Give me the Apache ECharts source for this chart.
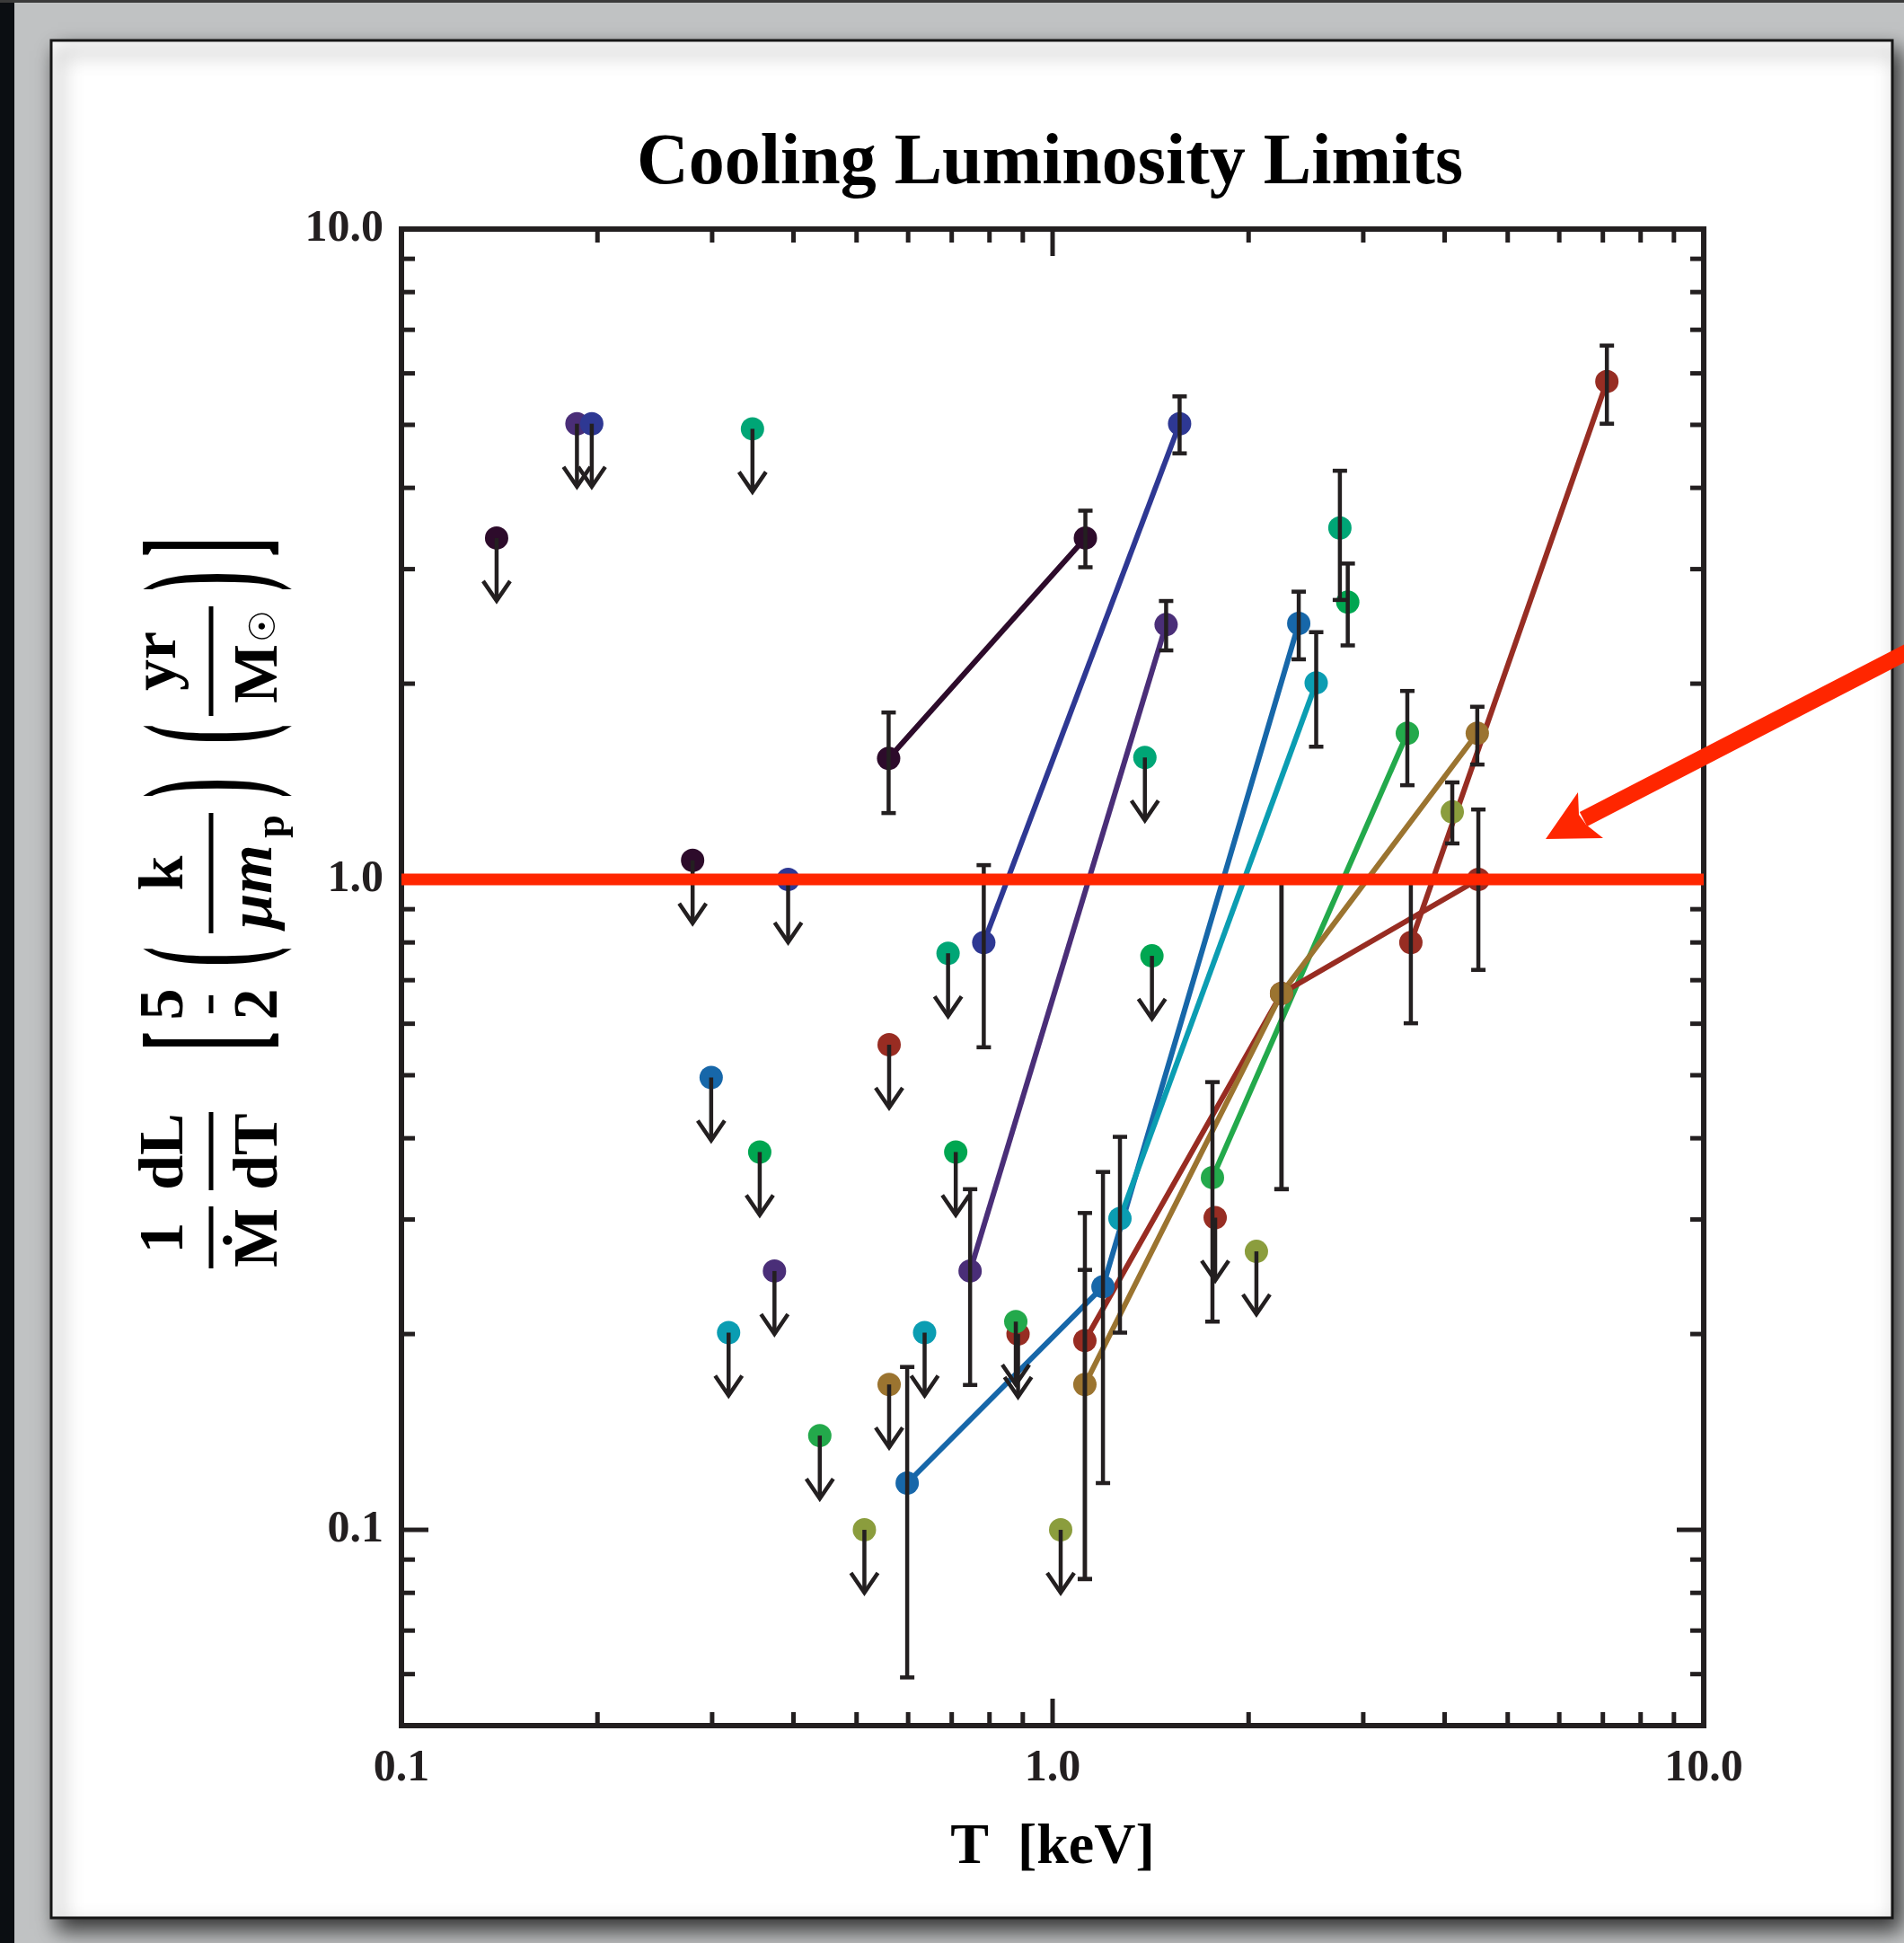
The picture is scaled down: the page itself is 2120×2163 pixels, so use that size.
<!DOCTYPE html>
<html>
<head>
<meta charset="utf-8">
<script src="https://cdn.jsdelivr.net/npm/echarts@6/dist/echarts.min.js"></script>
<style>
html,body{margin:0;padding:0;background:#c0c2c3;}
#chart{width:2120px;height:2163px;}
</style>
</head>
<body>
<div id="chart"></div>
<script>
// ---------------- DATA ----------------
// axis ranges and tick values (keV, dimensionless)
const xRange = [0.1, 10];
const yRange = [0.05, 10];
const decadeLabels = [0.1, 1, 10];
const xMajorTicks = [1];
const xMinorTicks = [0.2,0.3,0.4,0.5,0.6,0.7,0.8,0.9,2,3,4,5,6,7,8,9];
const yMajorTicks = [0.1, 1];
const yMinorTicks = [0.06,0.07,0.08,0.09,0.2,0.3,0.4,0.5,0.6,0.7,0.8,0.9,2,3,4,5,6,7,8,9];
const thresholdLevel = 1.0;

// upper limits: [T, value]
const darkLimits    = [[0.140, 3.35], [0.280, 1.07]];
const purpleLimits  = [[0.186, 5.02], [0.374, 0.250]];
const navyLimits    = [[0.196, 5.02], [0.3925, 1.0]];
const tealLimits    = [[0.346, 4.93], [0.691, 0.770], [1.386, 1.54]];
const greenLimits   = [[0.355, 0.381], [0.710, 0.381], [1.421, 0.763]];
const blueLimits    = [[0.299, 0.496]];
const cyanLimits    = [[0.318, 0.201], [0.636, 0.201]];
const crimsonLimits = [[0.885, 0.200], [1.777, 0.302]];
const limeLimits    = [[0.439, 0.1396], [0.878, 0.209]];
const redLimits     = [[0.561, 0.557]];
const goldLimits    = [[0.561, 0.1673]];
const oliveLimits   = [[0.514, 0.100], [1.029, 0.100], [2.056, 0.268]];

// detections: [T, value, lower, upper]
const darkDet    = [[0.560, 1.535, 1.265, 1.806], [1.123, 3.35, 3.02, 3.69]];
const purpleDet  = [[0.747, 0.250, 0.167, 0.334], [1.494, 2.465, 2.25, 2.68]];
const navyDet    = [[0.784, 0.80, 0.552, 1.052], [1.567, 5.02, 4.52, 5.53]];
const tealDet    = [[2.762, 3.47, 2.69, 4.25]];
const greenDet   = [[2.84, 2.67, 2.29, 3.06]];
const blueDet    = [[0.598, 0.118, 0.0593, 0.178], [1.195, 0.2365, 0.118, 0.355], [2.388, 2.476, 2.18, 2.77]];
const cyanDet    = [[1.269, 0.301, 0.201, 0.402], [2.54, 2.006, 1.60, 2.40]];
const crimsonDet = [[3.55, 0.80, 0.601, 1.0], [7.10, 5.83, 5.02, 6.62]];
const limeDet    = [[1.760, 0.348, 0.209, 0.488], [3.506, 1.678, 1.396, 1.949]];
const redDet     = [[1.121, 0.1954, 0.084, 0.251], [2.247, 0.668, 0.334, 1.0], [4.507, 1.0, 0.726, 1.281]];
const goldDet    = [[1.121, 0.1673, 0.084, 0.307], [2.247, 0.668, 0.334, 1.0], [4.49, 1.678, 1.502, 1.843]];
const oliveDet   = [[4.11, 1.27, 1.136, 1.41]];

// ---------------- STYLE ----------------
const palette = {
  dark:'#2d0b2b', purple:'#4a2e78', navy:'#2e3893', teal:'#00a676', green:'#00a651',
  blue:'#1767a9', cyan:'#0b9db2', crimson:'#972d23', lime:'#23a94b', red:'#982c22',
  gold:'#9b7430', olive:'#8b9d3d'
};
const groups = [
  ['dark', darkLimits, darkDet], ['purple', purpleLimits, purpleDet], ['navy', navyLimits, navyDet],
  ['teal', tealLimits, tealDet], ['green', greenLimits, greenDet], ['blue', blueLimits, blueDet],
  ['cyan', cyanLimits, cyanDet], ['crimson', crimsonLimits, crimsonDet], ['lime', limeLimits, limeDet],
  ['red', redLimits, redDet], ['gold', goldLimits, goldDet], ['olive', oliveLimits, oliveDet]
];
const INK = '#231f20';
const SERIF = '"Liberation Serif","Times New Roman","DejaVu Serif",serif';
const DOT = 26;

const chart = echarts.init(document.getElementById('chart'), null, {renderer:'canvas'});

function decadeFmt(v){
  for (const d of decadeLabels){ if (Math.abs(v/d - 1) < 1e-6) return d.toFixed(1); }
  return '';
}

function errRender(params, api){
  const x = api.value(0), lo = api.value(2), hi = api.value(3);
  const a = api.coord([x, lo]), b = api.coord([x, hi]);
  const st = {stroke: INK, lineWidth: 4.5};
  return {type:'group', children:[
    {type:'line', shape:{x1:a[0], y1:a[1], x2:b[0], y2:b[1]}, style:st},
    {type:'line', shape:{x1:a[0]-8, y1:a[1], x2:a[0]+8, y2:a[1]}, style:st},
    {type:'line', shape:{x1:b[0]-8, y1:b[1], x2:b[0]+8, y2:b[1]}, style:st}
  ]};
}
function limRender(params, api){
  const p = api.coord([api.value(0), api.value(1)]);
  const st = {stroke: INK, lineWidth: 4.5, fill: null};
  return {type:'group', children:[
    {type:'line', shape:{x1:p[0], y1:p[1], x2:p[0], y2:p[1]+70}, style:st},
    {type:'polyline', shape:{points:[[p[0]-15, p[1]+48], [p[0], p[1]+70], [p[0]+15, p[1]+48]]}, style:st}
  ]};
}
function xTickRender(len){
  return function(params, api){
    const cs = params.coordSys;
    const px = api.coord([api.value(0), 1])[0];
    const st = {stroke: INK, lineWidth: 5};
    const b = cs.y + cs.height;
    return {type:'group', children:[
      {type:'line', shape:{x1:px, y1:b, x2:px, y2:b-len}, style:st},
      {type:'line', shape:{x1:px, y1:cs.y, x2:px, y2:cs.y+len}, style:st}
    ]};
  };
}
function yTickRender(len){
  return function(params, api){
    const cs = params.coordSys;
    const py = api.coord([1, api.value(1)])[1];
    const st = {stroke: INK, lineWidth: 5};
    const r = cs.x + cs.width;
    return {type:'group', children:[
      {type:'line', shape:{x1:cs.x, y1:py, x2:cs.x+len, y2:py}, style:st},
      {type:'line', shape:{x1:r, y1:py, x2:r-len, y2:py}, style:st}
    ]};
  };
}

const series = [];
// connecting lines (beneath dots)
groups.forEach(([k, lim, det]) => {
  if (det.length > 1) series.push({
    type:'line', z:2, silent:true, symbol:'none',
    data: det.map(d => [d[0], d[1]]),
    lineStyle:{color: palette[k], width:6}
  });
});
// dots
groups.forEach(([k, lim, det]) => {
  series.push({
    type:'scatter', z:3, silent:true, symbol:'circle', symbolSize:DOT,
    data: lim.map(d => [d[0], d[1]]).concat(det.map(d => [d[0], d[1]])),
    itemStyle:{color: palette[k], opacity:1}
  });
});
// error bars and upper-limit arrows
const allDet = [].concat(...groups.map(g => g[2]));
const allLim = [].concat(...groups.map(g => g[1]));
series.push({type:'custom', z:4, silent:true, renderItem:errRender, encode:{x:0, y:1}, data: allDet});
series.push({type:'custom', z:4, silent:true, renderItem:limRender, encode:{x:0, y:1}, data: allLim});
// ticks
series.push({type:'custom', z:5, silent:true, renderItem:xTickRender(15), encode:{x:0, y:1}, data: xMinorTicks.map(v => [v, 1])});
series.push({type:'custom', z:5, silent:true, renderItem:xTickRender(30), encode:{x:0, y:1}, data: xMajorTicks.map(v => [v, 1])});
series.push({type:'custom', z:5, silent:true, renderItem:yTickRender(15), encode:{x:0, y:1}, data: yMinorTicks.map(v => [1, v])});
series.push({type:'custom', z:5, silent:true, renderItem:yTickRender(30), encode:{x:0, y:1}, data: yMajorTicks.map(v => [1, v])});
// threshold line
series.push({type:'line', z:6, silent:true, symbol:'none',
  data: [[xRange[0], thresholdLevel], [xRange[1], thresholdLevel]],
  lineStyle:{color:'#ff2600', width:13}});

// ---------- rotated y-axis title (math expression) ----------
const F = 'bold 70px ' + SERIF;
const FS = 'bold 46px ' + SERIF;
function T(t, x, y, font, extra){
  return Object.assign({type:'text', x:x, y:y, style:{text:t, font:font, fill:'#000',
    textAlign:'center', textVerticalAlign:'middle', align:'center', verticalAlign:'middle'}}, extra || {});
}
function D(t, x){ // stretched delimiter
  const e = T(t, x, 0, 'bold 66px ' + SERIF, {scaleY:2.75});
  e.style.y = 1.5;
  return e;
}
function BAR(x1, x2){ return {type:'rect', shape:{x:x1, y:-2.5, width:x2-x1, height:5}, style:{fill:'#000'}}; }
const NUM = -50, DEN = 55;
const yTitle = {
  type:'group', x:235, y:1415, rotation:Math.PI/2, z:50, silent:true,
  children:[
    T('1', 37, NUM, F), BAR(3, 72), T('Ṁ', 37, DEN, F),
    T('dL', 133, NUM, F), BAR(90, 177), T('dT', 133, DEN, F),
    D('[', 256),
    T('5', 297, NUM, F), BAR(287, 307), T('2', 297, DEN, F),
    D('(', 350),
    T('k', 443, NUM, F), BAR(376, 510),
    T('μm', 428, DEN - 6, 'italic ' + F), T('p', 495, DEN + 14, FS),
    D(')', 538),
    D('(', 598),
    T('yr', 679, NUM - 8, F), BAR(618, 740),
    T('M', 665, DEN, F), T('☉', 718, DEN + 6, 'bold 40px "DejaVu Sans",sans-serif'),
    D(')', 768),
    D(']', 806)
  ]
};

const option = {
  animation:false,
  backgroundColor:'transparent',
  title:{
    text:'Cooling Luminosity Limits', left:1164, top:138, textAlign:'center',
    textStyle:{fontFamily:SERIF, fontWeight:'bold', fontSize:80, color:'#000'}
  },
  grid:{left:447, top:255, right:223, bottom:242, show:true, borderColor:INK, borderWidth:6, backgroundColor:'transparent'},
  xAxis:{
    type:'log', logBase:10, min:xRange[0], max:xRange[1],
    axisLine:{show:false}, axisTick:{show:false}, splitLine:{show:false}, minorTick:{show:false},
    axisLabel:{formatter:decadeFmt, margin:23, fontFamily:SERIF, fontWeight:'bold', fontSize:50, color:INK},
    name:'T  [keV]', nameLocation:'middle', nameGap:104,
    nameTextStyle:{fontFamily:SERIF, fontWeight:'bold', fontSize:64, color:'#000'}
  },
  yAxis:{
    type:'log', logBase:10, min:yRange[0], max:yRange[1],
    axisLine:{show:false}, axisTick:{show:false}, splitLine:{show:false}, minorTick:{show:false},
    axisLabel:{formatter:decadeFmt, margin:20, fontFamily:SERIF, fontWeight:'bold', fontSize:50, color:INK}
  },
  graphic:{elements:[
    {type:'rect', z:-20, silent:true, shape:{x:0, y:0, width:16, height:2163}, style:{fill:'#0b0e12'}},
    {type:'rect', z:-20, silent:true, shape:{x:0, y:0, width:2120, height:3}, style:{fill:'#3a3a3a'}},
    {type:'rect', z:-10, silent:true, shape:{x:57, y:45, width:2050, height:2090},
      style:{fill:'#ffffff', stroke:'#161616', lineWidth:3, shadowBlur:22, shadowOffsetX:8, shadowOffsetY:12, shadowColor:'rgba(0,0,0,0.75)'}},
    yTitle,
    {type:'line', z:100, silent:true, shape:{x1:2125, y1:725, x2:1763, y2:912}, style:{stroke:'#ff2600', lineWidth:18}},
    {type:'polygon', z:100, silent:true, shape:{points:[[1721,934],[1757,882],[1758,907],[1766,918],[1785,933]]}, style:{fill:'#ff2600'}}
  ]},
  series: series
};
chart.setOption(option);
</script>
</body>
</html>
